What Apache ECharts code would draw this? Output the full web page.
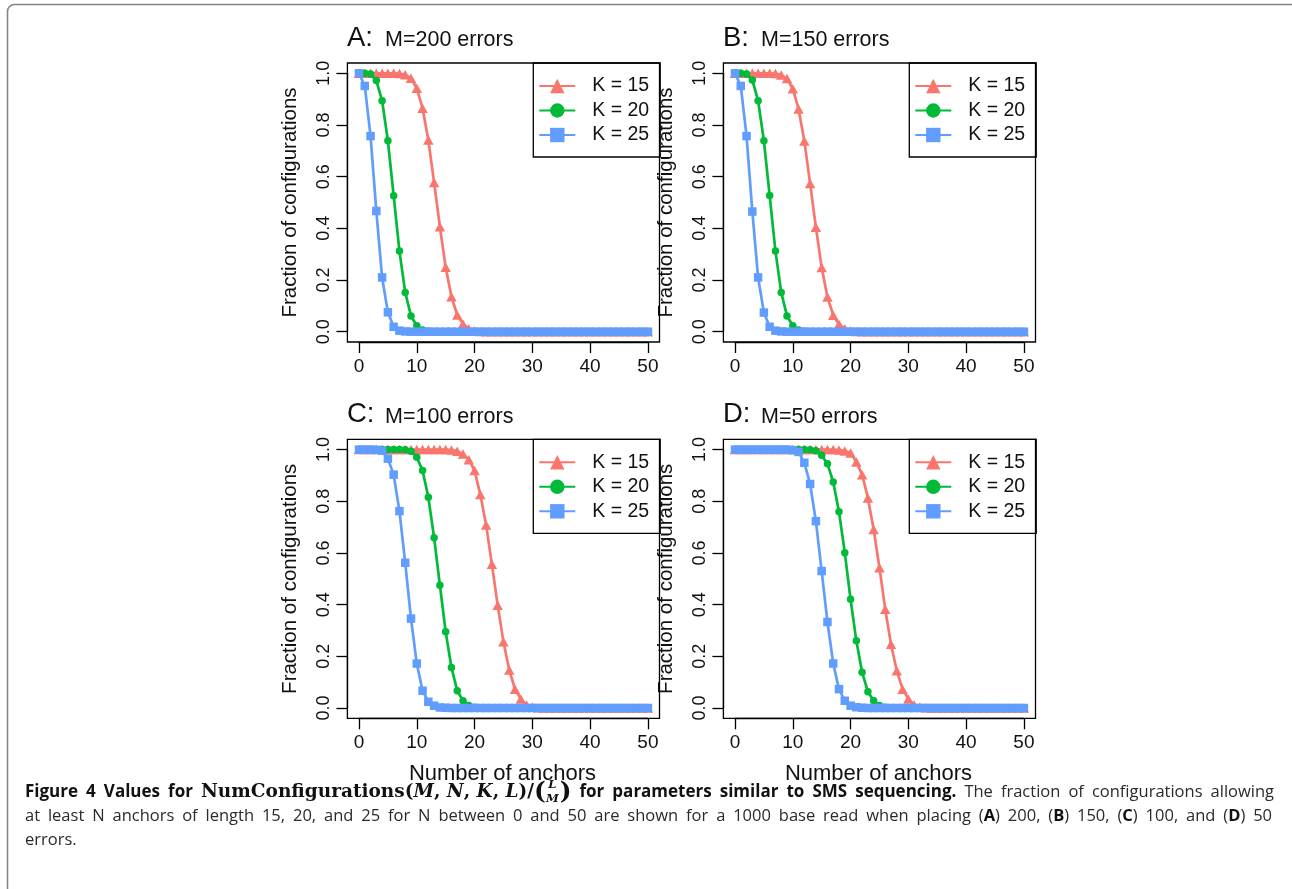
<!DOCTYPE html>
<html><head><meta charset="utf-8">
<script src="https://cdn.jsdelivr.net/npm/echarts@6/dist/echarts.min.js"></script>
<style>html,body{margin:0;padding:0;background:#fff}#c{width:1292px;height:889px}</style>
</head><body><div id="c"></div>
<script>
// ---------- data ----------
const anchors = [0,1,2,3,4,5,6,7,8,9,10,11,12,13,14,15,16,17,18,19,20,21,22,23,24,25,26,27,28,29,30,31,32,33,34,35,36,37,38,39,40,41,42,43,44,45,46,47,48,49,50];
const seriesNames = ['K = 15', 'K = 20', 'K = 25'];
const panelTitles = [['A:', 'M=200 errors'], ['B:', 'M=150 errors'], ['C:', 'M=100 errors'], ['D:', 'M=50 errors']];
const xTicks = [0, 10, 20, 30, 40, 50];
const yTicks = [0.0, 0.2, 0.4, 0.6, 0.8, 1.0];
const xTitle = 'Number of anchors';
const yTitle = 'Fraction of configurations';

const a_K15 = [1,1,1,1,1,1,1,0.999,0.994,0.981,0.942,0.865,0.742,0.577,0.406,0.249,0.135,0.065,0.030,0.011,0.004,0.001,0,0,0,0,0,0,0,0,0,0,0,0,0,0,0,0,0,0,0,0,0,0,0,0,0,0,0,0,0];
const a_K20 = [1,1,0.997,0.972,0.894,0.739,0.526,0.312,0.152,0.061,0.023,0.007,0.002,0.001,0,0,0,0,0,0,0,0,0,0,0,0,0,0,0,0,0,0,0,0,0,0,0,0,0,0,0,0,0,0,0,0,0,0,0,0,0];
const a_K25 = [1,0.951,0.757,0.467,0.210,0.075,0.019,0.004,0.001,0,0,0,0,0,0,0,0,0,0,0,0,0,0,0,0,0,0,0,0,0,0,0,0,0,0,0,0,0,0,0,0,0,0,0,0,0,0,0,0,0,0];

const b_K15 = [1,1,1,1,1,1,1,0.999,0.993,0.980,0.940,0.862,0.738,0.574,0.404,0.248,0.134,0.064,0.029,0.011,0.004,0.001,0,0,0,0,0,0,0,0,0,0,0,0,0,0,0,0,0,0,0,0,0,0,0,0,0,0,0,0,0];
const b_K20 = [1,1,0.997,0.974,0.894,0.739,0.527,0.312,0.152,0.061,0.023,0.007,0.002,0.001,0,0,0,0,0,0,0,0,0,0,0,0,0,0,0,0,0,0,0,0,0,0,0,0,0,0,0,0,0,0,0,0,0,0,0,0,0];
const b_K25 = [1,0.951,0.757,0.465,0.210,0.074,0.019,0.004,0.001,0,0,0,0,0,0,0,0,0,0,0,0,0,0,0,0,0,0,0,0,0,0,0,0,0,0,0,0,0,0,0,0,0,0,0,0,0,0,0,0,0,0];

const c_K15 = [1,1,1,1,1,1,1,1,1,1,1,1,1,1,1,1,0.998,0.994,0.983,0.961,0.919,0.826,0.708,0.556,0.398,0.256,0.147,0.073,0.035,0.012,0.004,0.001,0,0,0,0,0,0,0,0,0,0,0,0,0,0,0,0,0,0,0];
const c_K20 = [1,1,1,1,1,1,1,1,0.999,0.994,0.970,0.919,0.816,0.659,0.475,0.295,0.157,0.067,0.028,0.010,0.003,0.001,0,0,0,0,0,0,0,0,0,0,0,0,0,0,0,0,0,0,0,0,0,0,0,0,0,0,0,0,0];
const c_K25 = [1,1,1,0.999,0.996,0.965,0.903,0.762,0.562,0.346,0.172,0.067,0.024,0.009,0.002,0.001,0,0,0,0,0,0,0,0,0,0,0,0,0,0,0,0,0,0,0,0,0,0,0,0,0,0,0,0,0,0,0,0,0,0,0];

const d_K15 = [1,1,1,1,1,1,1,1,1,1,1,1,1,1,1,1,1,1,0.998,0.995,0.987,0.952,0.903,0.813,0.691,0.543,0.382,0.247,0.144,0.073,0.035,0.012,0.004,0.001,0,0,0,0,0,0,0,0,0,0,0,0,0,0,0,0,0];
const d_K20 = [1,1,1,1,1,1,1,1,1,1,1,1,1,0.999,0.996,0.978,0.945,0.875,0.759,0.601,0.421,0.260,0.138,0.063,0.028,0.010,0.003,0.001,0,0,0,0,0,0,0,0,0,0,0,0,0,0,0,0,0,0,0,0,0,0,0];
const d_K25 = [1,1,1,1,1,1,1,1,1,1,0.998,0.991,0.949,0.867,0.723,0.530,0.333,0.172,0.073,0.028,0.009,0.003,0.001,0,0,0,0,0,0,0,0,0,0,0,0,0,0,0,0,0,0,0,0,0,0,0,0,0,0,0,0];

const panelData = [[a_K15, a_K20, a_K25], [b_K15, b_K20, b_K25], [c_K15, c_K20, c_K25], [d_K15, d_K20, d_K25]];

// ---------- styles / layout ----------
const COLORS = ['#F8766D', '#00BA38', '#619CFF'];
const SYMBOLS = ['triangle', 'circle', 'rect'];
const SIZES = [[10.5, 9.5], 7.5, 8.5];
const FONT = 'Liberation Sans, Arial, Helvetica, sans-serif';
const panels = [
  {x: 359, y: 73.3},
  {x: 735, y: 73.3},
  {x: 359, y: 449.6},
  {x: 735, y: 449.6}
];
const GW = 288.9, GH = 258.4, MX = 11.6, MY = 10.3;

const grids = [], xAxes = [], yAxes = [], series = [], legends = [], graphics = [];

panels.forEach((p, i) => {
  grids.push({left: p.x, top: p.y, width: GW, height: GH});
  xAxes.push({
    gridIndex: i, type: 'value', min: 0, max: 50, interval: 10, offset: MY,
    axisLine: {show: true, onZero: false, lineStyle: {color: '#000', width: 1.3}},
    axisTick: {show: true, length: 11, lineStyle: {color: '#000', width: 1.3}},
    axisLabel: {fontSize: 19, color: '#111', margin: 15, fontFamily: FONT,
      formatter: v => xTicks.includes(v) ? String(v) : ''},
    splitLine: {show: false}
  });
  yAxes.push({
    gridIndex: i, type: 'value', min: 0, max: 1, interval: 0.2, offset: MX,
    axisLine: {show: true, onZero: false, lineStyle: {color: '#000', width: 1.3}},
    axisTick: {show: true, length: 11, lineStyle: {color: '#000', width: 1.3}},
    axisLabel: {fontSize: 18, color: '#111', margin: 14, rotate: 90, fontFamily: FONT,
      formatter: v => yTicks.some(t => Math.abs(t - v) < 1e-9) ? v.toFixed(1) : ''},
    splitLine: {show: false}
  });
  panelData[i].forEach((vals, k) => {
    series.push({
      type: 'line', name: seriesNames[k], xAxisIndex: i, yAxisIndex: i,
      data: anchors.map((n, j) => [n, vals[j]]),
      symbol: SYMBOLS[k], symbolSize: SIZES[k], showSymbol: true, showAllSymbol: true,
      lineStyle: {color: COLORS[k], width: 2.7}, itemStyle: {color: COLORS[k]},
      clip: false, animation: false, z: 2 + k
    });
  });
  legends.push({
    left: p.x - MX - 0.4 + 186.3, top: p.y - MY, orient: 'vertical', data: seriesNames,
    itemWidth: 36, itemHeight: 18, itemGap: 4.5, padding: [13, 11, 12, 5],
    borderColor: '#000', borderWidth: 1.3, backgroundColor: '#fff', selectedMode: false,
    textStyle: {fontSize: 19.5, fontFamily: FONT, color: '#111', lineHeight: 20, padding: [0, 0, 0, 12]}
  });
  graphics.push({type: 'rect', z: 10, silent: true,
    shape: {x: p.x - MX, y: p.y - MY, width: GW + 2 * MX, height: GH + 2 * MY},
    style: {fill: 'none', stroke: '#000', lineWidth: 1.3}});
  graphics.push({type: 'text', x: p.x - 12, y: p.y - 35, silent: true,
    style: {text: panelTitles[i][0], fontSize: 27.5, fontFamily: FONT, fill: '#111', verticalAlign: 'middle'}});
  graphics.push({type: 'text', x: p.x + 26, y: p.y - 33, silent: true,
    style: {text: panelTitles[i][1], fontSize: 21.5, fontFamily: FONT, fill: '#111', verticalAlign: 'middle'}});
  graphics.push({type: 'text', x: p.x - 69, y: p.y + GH / 2, rotation: Math.PI / 2, silent: true,
    style: {text: yTitle, fontSize: 20.5, fontFamily: FONT, fill: '#111', align: 'center', verticalAlign: 'middle'}});
  if (i >= 2) {
    graphics.push({type: 'text', x: p.x + GW / 2 - 1, y: p.y + GH + 66, silent: true,
      style: {text: xTitle, fontSize: 22, fontFamily: FONT, fill: '#111', align: 'center', verticalAlign: 'middle'}});
  }
});

// figure frame
graphics.push({type: 'rect', silent: true, shape: {x: 7.5, y: 4.5, width: 1300, height: 950, r: 7},
  style: {fill: 'none', stroke: '#858585', lineWidth: 1.6}});

// ---------- caption (justified lines built from measured words) ----------
const CF = '"Open Sans"';
const SF = '"DejaVu Serif"';
const mctx = document.createElement('canvas').getContext('2d');
function fontStr(r) { return (r.italic ? 'italic ' : '') + (r.bold ? 'bold ' : '') + r.size + 'px ' + r.family; }
function measure(r) { mctx.font = fontStr(r); return mctx.measureText(r.t).width; }
function runEl(r, x, y) {
  return {type: 'text', x: x, y: y + (r.dy || 0), silent: true,
    style: {text: r.t, fontSize: r.size, fontFamily: r.family, fontWeight: r.bold ? 'bold' : 'normal',
      fontStyle: r.italic ? 'italic' : 'normal', fill: r.fill || '#1a1a1a', verticalAlign: 'middle'}};
}
function groupWidth(g) {
  return g.reduce((s, r) => s + (r.stack ? Math.max(measure(r.stack[0]), measure(r.stack[1])) + 1 : measure(r)), 0);
}
function placeLine(groups, x0, x1, y, justify) {
  const widths = groups.map(groupWidth);
  const total = widths.reduce((a, b) => a + b, 0);
  const gap = justify ? (x1 - x0 - total) / (groups.length - 1) : 4.5;
  let x = x0;
  groups.forEach((g, gi) => {
    let cx = x;
    g.forEach(r => {
      if (r.stack) {
        const w = Math.max(measure(r.stack[0]), measure(r.stack[1]));
        r.stack.forEach(s => graphics.push(runEl(s, cx + (w - measure(s)) / 2, y)));
        cx += w + 1;
      } else {
        graphics.push(runEl(r, cx, y));
        cx += measure(r);
      }
    });
    x += widths[gi] + gap;
  });
}
const bs = t => ({t, size: 17, family: CF, bold: true, fill: '#111'});
const rs = t => ({t, size: 16.5, family: CF, fill: '#2a2a2a'});
const rb = t => ({t, size: 16.5, family: CF, bold: true, fill: '#111'});
const sb = t => ({t, size: 18.5, family: SF, bold: true, fill: '#111'});
const si = t => ({t, size: 18.5, family: SF, bold: true, italic: true, fill: '#111'});
const sm = (t, dy) => ({t, size: 11.5, family: SF, bold: true, italic: true, fill: '#111', dy});
const big = t => ({t, size: 25, family: SF, bold: true, fill: '#111', dy: 0});

const line1 = [
  [bs('Figure')], [bs('4')], [bs('Values')], [bs('for')],
  [sb('NumConfigurations('), si('M'), sb(', '), si('N'), sb(', '), si('K'), sb(', '), si('L'), sb(')/'), big('('), {stack: [sm('L', -7), sm('M', 7)]}, big(')')],
  [bs('for')], [bs('parameters')], [bs('similar')], [bs('to')], [bs('SMS')], [bs('sequencing.')],
  [rs('The')], [rs('fraction')], [rs('of')], [rs('configurations')], [rs('allowing')]
];
const line2Text = 'at least N anchors of length 15, 20, and 25 for N between 0 and 50 are shown for a 1000 base read when placing';
const line2 = line2Text.split(' ').map(w => [rs(w)]).concat([
  [rs('('), rb('A'), rs(')')], [rs('200,')], [rs('('), rb('B'), rs(')')], [rs('150,')],
  [rs('('), rb('C'), rs(')')], [rs('100,')], [rs('and')], [rs('('), rb('D'), rs(')')], [rs('50')]
]);
placeLine(line1, 25, 1274, 792.5, true);
placeLine(line2, 25, 1272, 816.5, true);
placeLine([[rs('errors.')]], 25, 1272, 840.5, false);

const chart = echarts.init(document.getElementById('c'), null, {renderer: 'canvas'});
chart.setOption({
  animation: false,
  backgroundColor: '#fff',
  grid: grids, xAxis: xAxes, yAxis: yAxes, series: series, legend: legends,
  graphic: {elements: graphics}
});
</script>
</body></html>
